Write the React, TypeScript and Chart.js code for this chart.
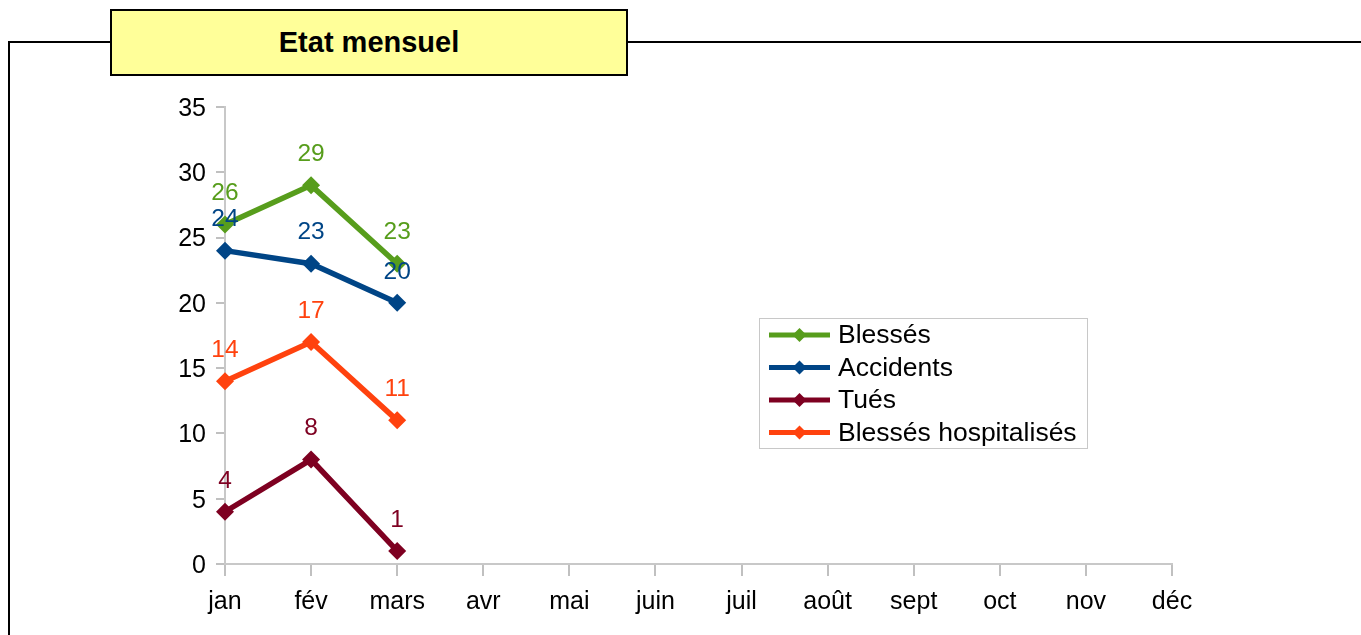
import React, { useEffect, useRef } from "react";
import { Chart, registerables } from "chart.js";

Chart.register(...registerables);

const months = ["jan", "fév", "mars", "avr", "mai", "juin", "juil", "août", "sept", "oct", "nov", "déc"];
const seriesNames = ["Blessés", "Accidents", "Tués", "Blessés hospitalisés"];
const blesses = [26, 29, 23];
const accidents = [24, 23, 20];
const tues = [4, 8, 1];
const blessesHosp = [14, 17, 11];
const seriesColors = ["#579d1c", "#004586", "#7e0021", "#ff420e"];
const title = "Etat mensuel";

const FONT = "'Liberation Sans', Arial, sans-serif";

const dataLabelPlugin = {
  id: "dataLabels",
  afterDatasetsDraw(chart: any) {
    const ctx = chart.ctx;
    ctx.save();
    ctx.font = `24.5px ${FONT}`;
    ctx.textAlign = "center";
    ctx.textBaseline = "middle";
    chart.data.datasets.forEach((ds: any, i: number) => {
      const meta = chart.getDatasetMeta(i);
      ctx.fillStyle = ds.borderColor;
      meta.data.forEach((pt: any, j: number) => {
        const v = ds.data[j];
        if (v == null) return;
        ctx.fillText(String(v), pt.x, pt.y - 31);
      });
    });
    ctx.restore();
  },
};

const legendPlugin = {
  id: "boxLegend",
  afterDraw(chart: any) {
    const ctx = chart.ctx;
    const bx = 759, by = 318, bw = 328, bh = 130;
    ctx.save();
    ctx.fillStyle = "#ffffff";
    ctx.fillRect(bx, by, bw, bh);
    ctx.strokeStyle = "#c8c8c8";
    ctx.lineWidth = 1;
    ctx.strokeRect(bx + 0.5, by + 0.5, bw, bh);
    ctx.font = `26.5px ${FONT}`;
    ctx.textAlign = "left";
    ctx.textBaseline = "middle";
    chart.data.datasets.forEach((ds: any, i: number) => {
      const y = by + 17 + i * 32.5;
      ctx.strokeStyle = ds.borderColor;
      ctx.lineWidth = 5;
      ctx.beginPath();
      ctx.moveTo(769, y);
      ctx.lineTo(830, y);
      ctx.stroke();
      ctx.fillStyle = ds.borderColor;
      ctx.beginPath();
      ctx.moveTo(799.5, y - 7);
      ctx.lineTo(806.5, y);
      ctx.lineTo(799.5, y + 7);
      ctx.lineTo(792.5, y);
      ctx.closePath();
      ctx.fill();
      ctx.fillStyle = "#000";
      ctx.fillText(ds.label, 838, y + 1);
    });
    ctx.restore();
  },
};

export default function App() {
  const ref = useRef<HTMLCanvasElement | null>(null);
  useEffect(() => {
    if (!ref.current) return;
    Chart.defaults.font.family = FONT;
    const values = [blesses, accidents, tues, blessesHosp];
    const chart = new Chart(ref.current, {
      type: "line",
      data: {
        labels: months,
        datasets: values.map((d, i) => ({
          label: seriesNames[i],
          data: d,
          borderColor: seriesColors[i],
          backgroundColor: seriesColors[i],
          borderWidth: 5.5,
          pointStyle: "rectRot",
          pointRadius: 9,
          pointBorderWidth: 0,
          pointBackgroundColor: seriesColors[i],
          tension: 0,
          clip: false as any,
        })),
      },
      options: {
        animation: false,
        responsive: false,
        maintainAspectRatio: false,
        layout: { padding: { top: 107, right: 189, left: 0, bottom: 0 } },
        plugins: {
          legend: { display: false },
          tooltip: { enabled: false },
          title: { display: false },
        },
        scales: {
          x: {
            grid: { display: true, drawOnChartArea: false, drawTicks: true, tickLength: 12, color: "#c0c0c0", lineWidth: 2 },
            border: { color: "#c8c8c8", width: 2 },
            ticks: { font: { size: 25 }, color: "#000", padding: 11, maxRotation: 0, autoSkip: false },
            afterFit: (s: any) => { s.height = 71; },
          },
          y: {
            min: 0,
            max: 35,
            grid: { display: true, drawOnChartArea: false, drawTicks: true, tickLength: 9, color: "#c0c0c0", lineWidth: 2 },
            border: { color: "#c8c8c8", width: 2 },
            ticks: { stepSize: 5, font: { size: 25 }, color: "#000", padding: 10, labelOffset: 2 } as any,
            afterFit: (s: any) => { s.width = 225; },
          },
        },
      },
      plugins: [dataLabelPlugin, legendPlugin],
    });
    return () => chart.destroy();
  }, []);

  return (
    <div style={{ position: "fixed", left: 0, top: 0, width: 1361, height: 635, overflow: "hidden", background: "#fff" }}>
      <div style={{ position: "absolute", left: 8, top: 41, width: 1400, height: 700, border: "2px solid #000", boxSizing: "border-box" }} />
      <canvas ref={ref} width={1361} height={635} style={{ position: "absolute", left: 0, top: 0, width: 1361, height: 635 }} />
      <div
        style={{
          position: "absolute",
          left: 110,
          top: 9,
          width: 518,
          height: 67,
          boxSizing: "border-box",
          border: "2px solid #000",
          background: "#ffff99",
          display: "flex",
          alignItems: "center",
          justifyContent: "center",
          fontFamily: FONT,
          fontWeight: "bold",
          fontSize: 29,
          color: "#000",
        }}
      >
        {title}
      </div>
    </div>
  );
}
